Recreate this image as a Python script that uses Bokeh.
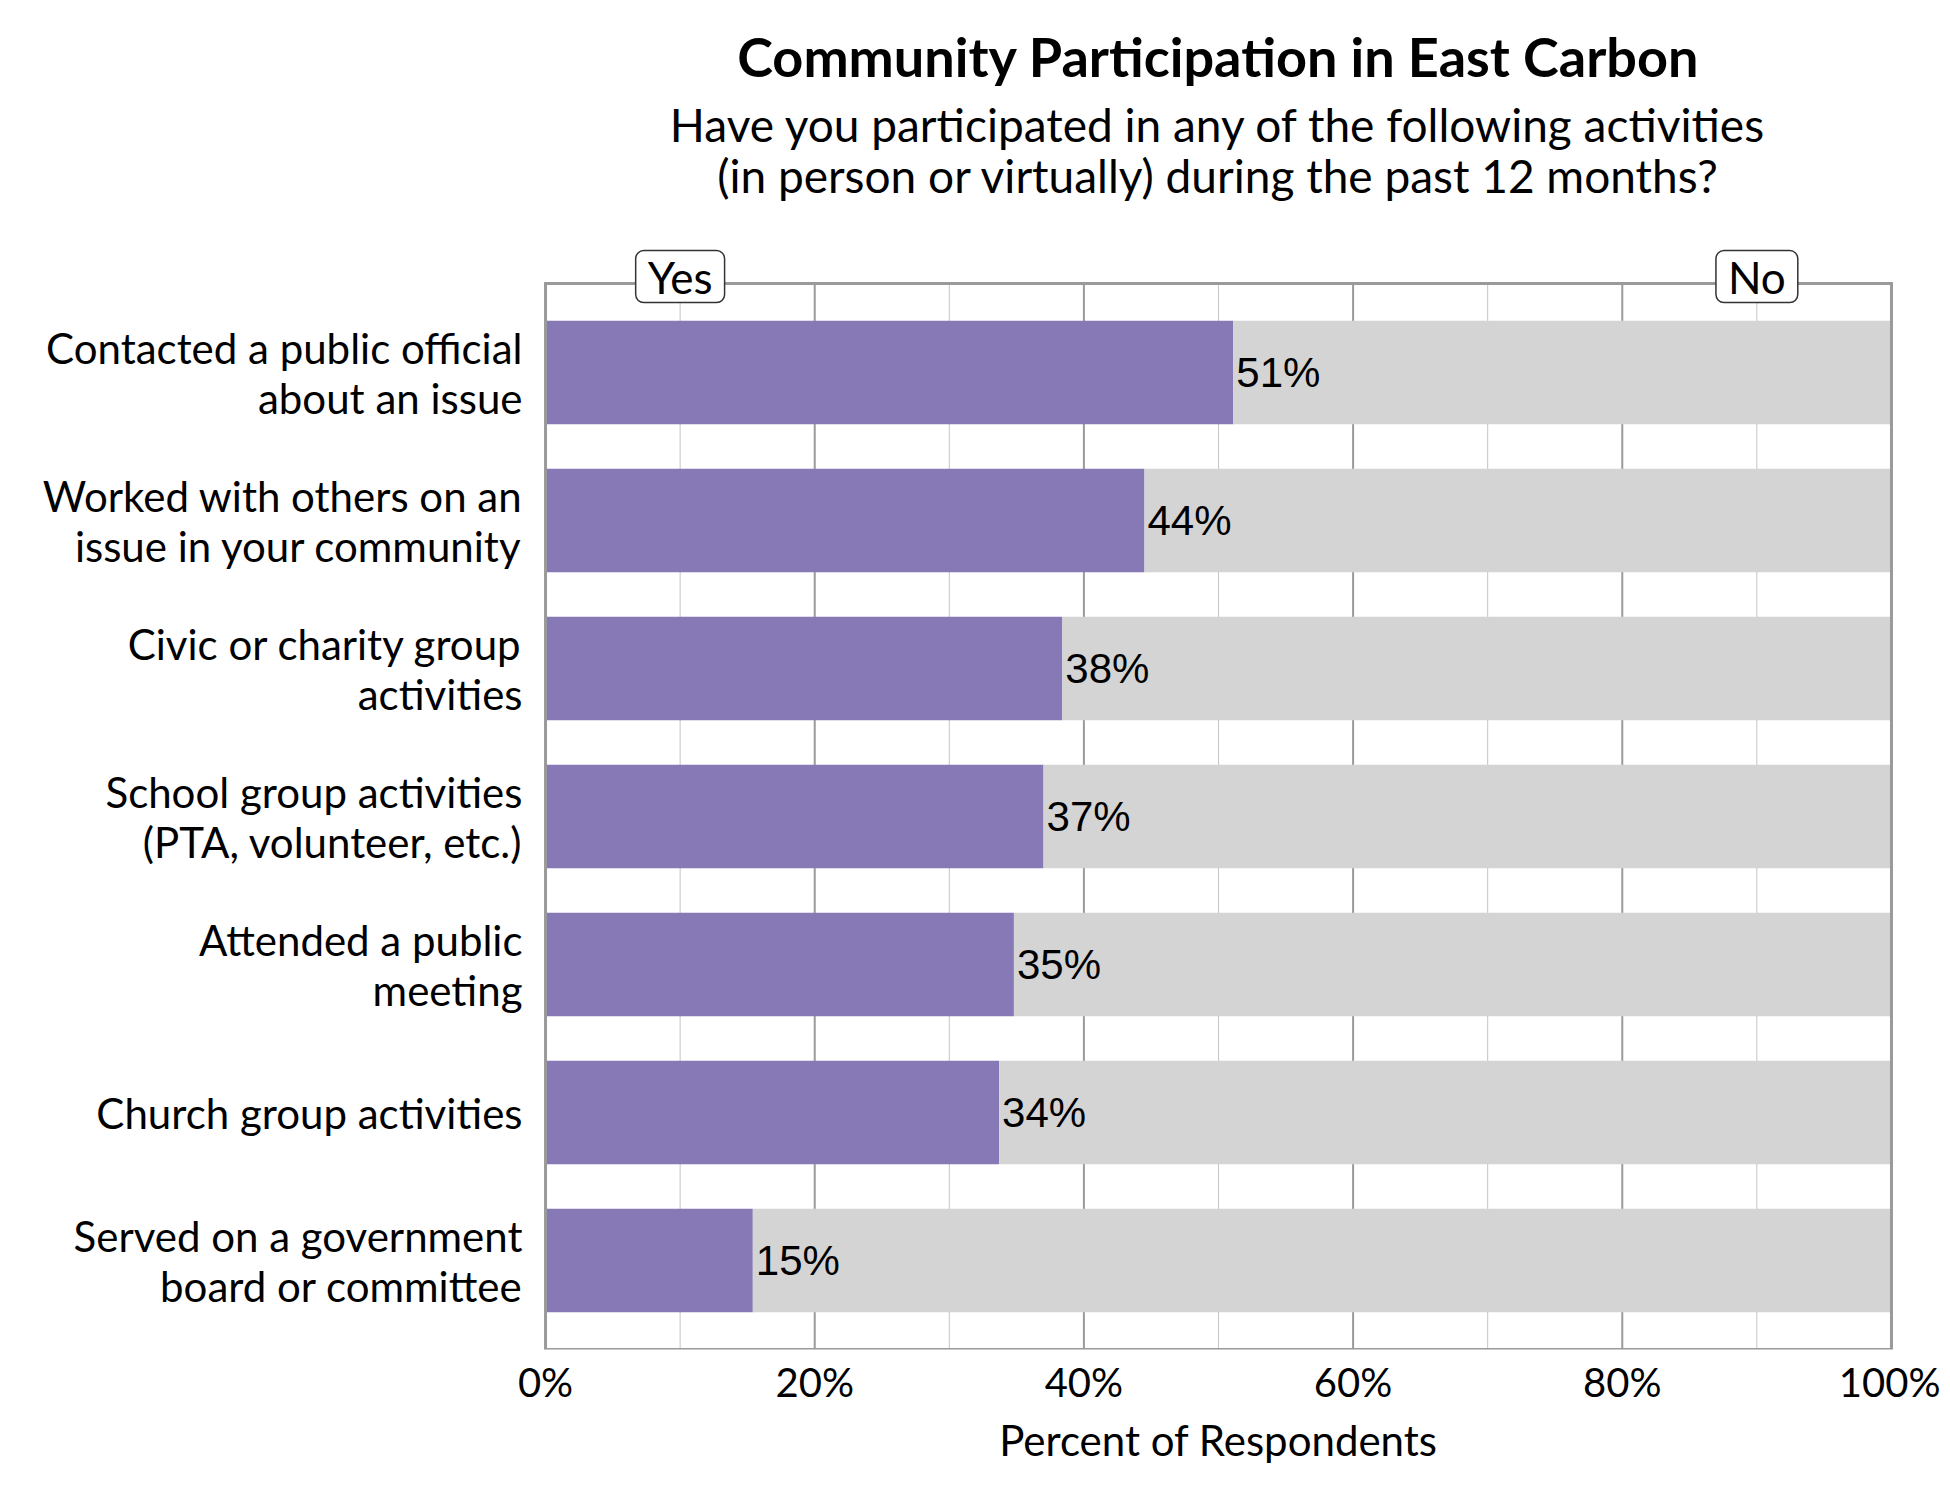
from bokeh.plotting import figure
from bokeh.models import Range1d, FixedTicker, Label
from bokeh.core.properties import value
from bokeh.embed import file_html
from bokeh.resources import INLINE

# ---- data ----
categories = [
    "Contacted a public official\nabout an issue",
    "Worked with others on an\nissue in your community",
    "Civic or charity group\nactivities",
    "School group activities\n(PTA, volunteer, etc.)",
    "Attended a public\nmeeting",
    "Church group activities",
    "Served on a government\nboard or committee",
]
yes_values = [51.1, 44.5, 38.4, 37.0, 34.8, 33.7, 15.4]
yes_labels = ["51%", "44%", "38%", "37%", "35%", "34%", "15%"]
x_ticks = [0, 20, 40, 60, 80, 100]
x_minor_ticks = [10, 30, 50, 70, 90]
x_tick_labels = ["0%", "20%", "40%", "60%", "80%", "100%"]
title_text = "Community Participation in East Carbon"
subtitle_lines = ["Have you participated in any of the following activities",
                  "(in person or virtually) during the past 12 months?"]
x_axis_title = "Percent of Respondents"
tag_positions = [10, 90]
tag_texts = ["Yes", "No"]

PURPLE = "#8779B5"
GRAY = "#D4D4D4"
FRAME = "#9a9a9a"
FONT = "Lato"
NUM_FONT = "Liberation Sans"

n = len(categories)
ypos = list(range(n))
PAD = 0.601
Y_BOT = n - 1 + PAD
Y_TOP = Y_BOT - 1341 / 148.0   # extended upward so title and tags sit inside the frame

p = figure(width=1940, height=1498, output_backend="svg", toolbar_location=None,
           x_range=Range1d(-0.3, 100.3), y_range=Range1d(Y_BOT, Y_TOP),
           min_border_left=541, min_border_right=45, min_border_top=8,
           min_border_bottom=149)
p.background_fill_color = "white"
p.border_fill_color = "white"
p.outline_line_color = None
p.grid.visible = False

# grid lines (drawn manually so they stop at the chart box)
p.segment(x0=x_minor_ticks, x1=x_minor_ticks, y0=[-PAD] * len(x_minor_ticks),
          y1=[Y_BOT] * len(x_minor_ticks), line_color="#c4c4c4", line_width=1)
p.segment(x0=x_ticks, x1=x_ticks, y0=[-PAD] * len(x_ticks),
          y1=[Y_BOT] * len(x_ticks), line_color=FRAME, line_width=2)

# bars
p.hbar(y=ypos, left=0, right=yes_values, height=0.70, fill_color=PURPLE, line_color=None)
p.hbar(y=ypos, left=yes_values, right=[100] * n, height=0.70, fill_color=GRAY, line_color=None)

# chart box border
p.quad(left=[0], right=[100], top=[-PAD], bottom=[Y_BOT], fill_color=None,
       line_color=FRAME, line_width=3, line_join="miter")

# data labels
p.text(x=yes_values, y=ypos, text=yes_labels, x_offset=3, text_baseline="middle",
       text_align="left", text_font=value(NUM_FONT), text_font_size="42px",
       text_color="black")

# x axis
p.xaxis.ticker = FixedTicker(ticks=x_ticks)
p.xaxis.major_label_overrides = {t: l for t, l in zip(x_ticks, x_tick_labels)}
p.xaxis.axis_line_color = None
p.xaxis.major_tick_line_color = None
p.xaxis.minor_tick_line_color = None
p.xaxis.major_label_standoff = 2
p.xaxis.major_label_text_font = FONT
p.xaxis.major_label_text_font_size = "40px"
p.xaxis.major_label_text_color = "black"
p.xaxis.axis_label = x_axis_title
p.xaxis.axis_label_text_font = FONT
p.xaxis.axis_label_text_font_style = "normal"
p.xaxis.axis_label_text_font_size = "42px"
p.xaxis.axis_label_text_color = "black"
p.xaxis.axis_label_standoff = 6

# y axis
p.yaxis.ticker = FixedTicker(ticks=ypos)
p.yaxis.major_label_overrides = {i: c for i, c in zip(ypos, categories)}
p.yaxis.axis_line_color = None
p.yaxis.major_tick_line_color = None
p.yaxis.minor_tick_line_color = None
p.yaxis.major_label_standoff = 13
p.yaxis.major_label_text_font = FONT
p.yaxis.major_label_text_font_size = "42px"
p.yaxis.major_label_text_line_height = 1.0
p.yaxis.major_label_text_color = "black"

# Yes / No tags
for xv, txt in zip(tag_positions, tag_texts):
    p.add_layout(Label(x=xv, y=-PAD, text=txt, text_align="center", text_baseline="middle",
                       y_offset=7, text_font=FONT, text_font_size="44px", text_color="black",
                       background_fill_color="white", border_line_color="#333333",
                       border_line_width=1.5, border_radius=8,
                       padding=dict(left=12, right=12, top=0, bottom=0)))

# title + subtitle
p.add_layout(Label(x=50, y=-2.135, text=title_text, text_align="center", text_baseline="middle",
                   text_font=FONT, text_font_style="bold", text_font_size="54px", text_color="black"))
for yv, line in zip([-1.675, -1.330], subtitle_lines):
    p.add_layout(Label(x=50, y=yv, text=line, text_align="center", text_baseline="middle",
                       text_font=FONT, text_font_size="46px", text_color="black"))

open("out.html", "w").write(file_html(p, INLINE))
